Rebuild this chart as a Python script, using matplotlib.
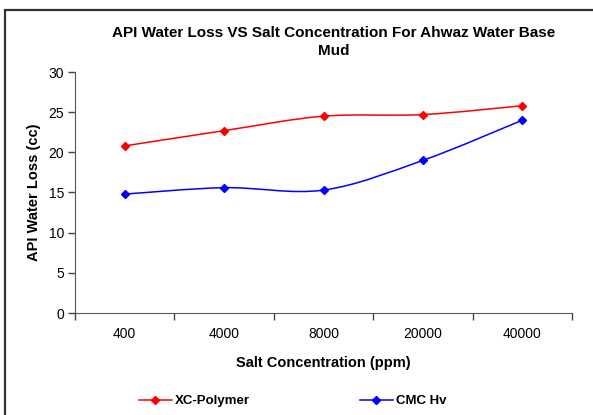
import matplotlib.pyplot as plt
import numpy as np
from matplotlib.path import Path
from matplotlib.patches import PathPatch, Rectangle
from matplotlib.lines import Line2D

plt.rcParams['font.family'] = ['Liberation Sans', 'DejaVu Sans']

salt = ['400', '4000', '8000', '20000', '40000']
xc_polymer = [20.8, 22.7, 24.5, 24.7, 25.8]
cmc_hv = [14.8, 15.6, 15.3, 19.0, 24.0]


def smooth_path(x, y):
    # excel-like smoothed line: cubic bezier, control points from neighbours
    x = np.asarray(x, float)
    y = np.asarray(y, float)
    verts = [(x[0], y[0])]
    codes = [Path.MOVETO]
    n = len(x)
    for i in range(n - 1):
        x0, y0 = (x[i - 1], y[i - 1]) if i > 0 else (x[i], y[i])
        x3, y3 = (x[i + 2], y[i + 2]) if i + 2 < n else (x[i + 1], y[i + 1])
        c1 = (x[i] + (x[i + 1] - x0) / 6, y[i] + (y[i + 1] - y0) / 6)
        c2 = (x[i + 1] - (x3 - x[i]) / 6, y[i + 1] - (y3 - y[i]) / 6)
        verts += [c1, c2, (x[i + 1], y[i + 1])]
        codes += [Path.CURVE4] * 3
    return Path(verts, codes)


fig = plt.figure(figsize=(5.93, 4.15), dpi=100)
ax = fig.add_axes([75 / 593, (415 - 313) / 415, (572 - 75) / 593, (313 - 72) / 415])

pos = np.arange(len(salt))
for vals, col in [(xc_polymer, '#ff0000'), (cmc_hv, '#0000ff')]:
    ax.add_patch(PathPatch(smooth_path(pos, vals), fill=False, edgecolor=col, lw=1.1))
    ax.plot(pos, vals, ls='none', marker='D', ms=4, color=col)

ax.set_xlim(-0.5, len(salt) - 0.5)
ax.set_ylim(0, 30)
ax.set_yticks(range(0, 31, 5))
ax.set_xticks(pos)
ax.set_xticklabels(salt)
ax.set_xticks(np.arange(-0.5, len(salt), 1), minor=True)
ax.tick_params(axis='x', which='major', length=0, pad=10, labelsize=10)
ax.tick_params(axis='x', which='minor', length=5, width=1, color='#444444', direction='out')
ax.tick_params(axis='y', length=5, width=1, color='#444444', labelsize=10, pad=3)
ax.spines['top'].set_visible(False)
ax.spines['right'].set_visible(False)
ax.spines['left'].set_color('#555555')
ax.spines['bottom'].set_color('#555555')

ax.set_xlabel('Salt Concentration (ppm)', fontsize=10.5, fontweight='bold', labelpad=11)
ax.set_ylabel('API Water Loss (cc)', fontsize=10.5, fontweight='bold', labelpad=5)
fig.text(334 / 593, 1 - 42 / 415, 'API Water Loss VS Salt Concentration For Ahwaz Water Base\nMud',
         ha='center', va='center', fontsize=11, fontweight='bold', linespacing=1.3)

# legend
handles = [Line2D([], [], color='#ff0000', marker='D', ms=4, lw=1.1),
           Line2D([], [], color='#0000ff', marker='D', ms=4, lw=1.1)]
fig.legend(handles, ['XC-Polymer', 'CMC Hv'], loc='center left', bbox_to_anchor=(139 / 593, 1 - 401 / 415),
           ncol=2, frameon=False, columnspacing=8.3, handlelength=2.5, handletextpad=0.25,
           borderpad=0, borderaxespad=0, prop={'weight': 'bold', 'size': 9.5})

# outer chart frame
fig.patches.append(Rectangle((4.5 / 593, -0.05), 1.2, 1 - 9.5 / 415 + 0.05, transform=fig.transFigure,
                             fill=False, edgecolor='#333333', lw=1.6))

fig.savefig('out.png', dpi=100)
